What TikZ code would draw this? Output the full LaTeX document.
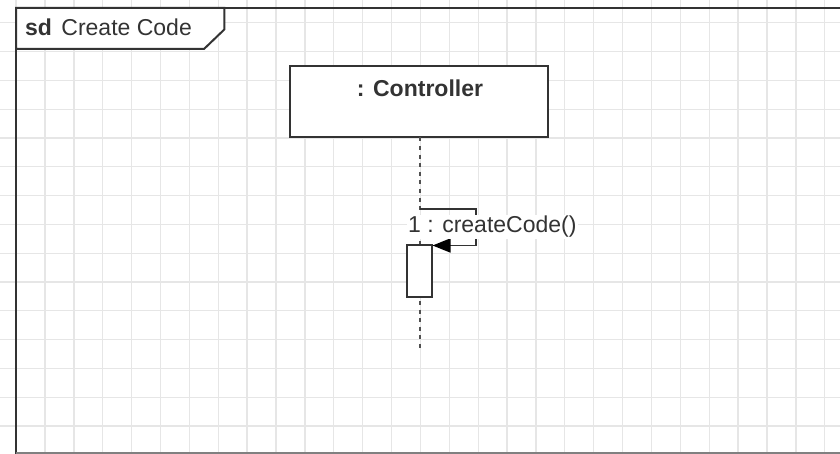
\documentclass[tikz,border=0pt]{standalone}
\usepackage{fontspec}
\setmainfont{Liberation Sans}
\usetikzlibrary{arrows.meta}
\definecolor{gridc}{RGB}{230,230,230}
\definecolor{linec}{RGB}{51,51,51}
\definecolor{lifec}{RGB}{80,80,80}
\tikzset{
  gridline/.style={draw=gridc, line width=1.3pt},
  frameline/.style={draw=linec, line width=2pt},
  objbox/.style={draw=linec, line width=2pt, fill=white},
  lifeline/.style={draw=lifec, line width=2.4pt, dash pattern=on 4pt off 4.6pt},
  msgline/.style={draw=linec, line width=1.8pt, -{Triangle[length=18pt,width=14pt,fill=black,color=black]}},
  txt/.style={font=\fontsize{23}{27}\selectfont, text=linec, inner sep=0pt},
  msglabel/.style={font=\fontsize{23}{27}\selectfont, text=linec, fill=white, inner sep=1.5pt}
}
\begin{document}
\begin{tikzpicture}[x=1pt,y=-1pt]
\useasboundingbox (0,0) rectangle (840,454);
% grid
\foreach \k in {0,...,29} {
  \draw[gridline] ({16.1+28.88*\k},0) -- ({16.1+28.88*\k},454);
}
\foreach \k in {0,...,15} {
  \draw[gridline] (0,{22.8+28.8*\k}) -- (840,{22.8+28.8*\k});
}
% frame
\draw[frameline] (845,8) -- (16,8) -- (16,460);
\draw[draw=gray, line width=1.5pt] (16,452.8) -- (845,452.8);
\draw[frameline, fill=white] (16,8) -- (224.3,8) -- (224.3,29.5) -- (204,49) -- (16,49) -- cycle;
\node[txt, anchor=base west] (title) at (25,36) {\textbf{sd}\hspace{3pt} Create Code};
% controller
\node[objbox, minimum width=258pt, minimum height=71pt, inner sep=0pt] (ctrl) at (419.2,101.7) {};
\node[txt, anchor=base] (ctrlname) at (420,96.5) {\textbf{: Controller}};
\coordinate (lifeend) at (420,350);
\coordinate (msgstart) at (420,209.3);
\draw[lifeline] (420,137.5) -- (lifeend);
% activation
\node[objbox, minimum width=25pt, minimum height=51pt, inner sep=0pt] (act) at (419,271) {};
% self message
\coordinate (msgcorner1) at (476,209.3);
\coordinate (msgcorner2) at (476,245.5);
\draw[msgline] (msgstart) -- (msgcorner1) -- (msgcorner2) -- (act.north east |- msgcorner2);
\node[msglabel, anchor=base west] (msglbl) at (406.5,233) {1 : createCode()};
\end{tikzpicture}
\end{document}
